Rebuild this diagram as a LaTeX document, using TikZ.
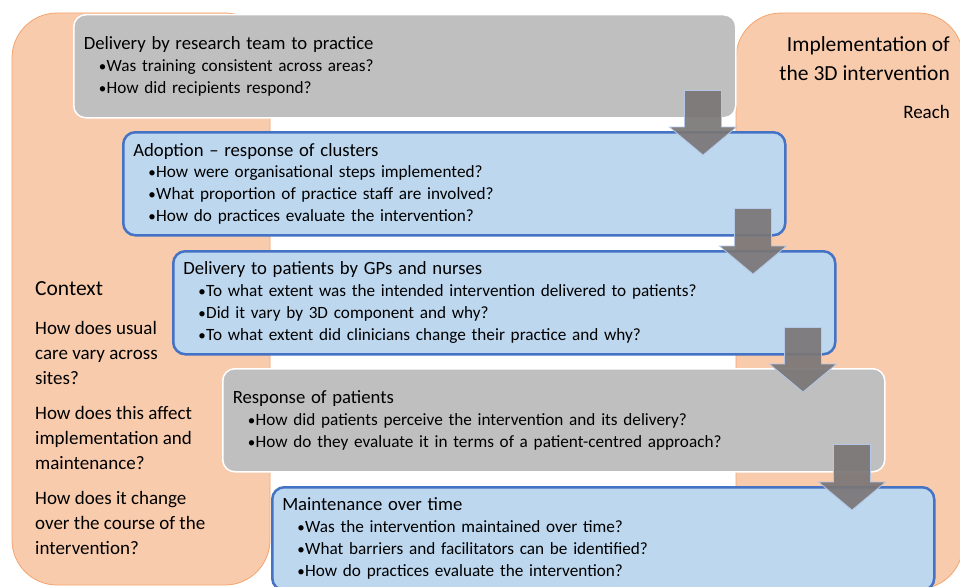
\documentclass[tikz,border=0pt]{standalone}
\usepackage{fontspec}
\setmainfont{Carlito}
\usetikzlibrary{calc}
\definecolor{orfill}{HTML}{F8CBAD}
\definecolor{ordraw}{HTML}{F4A46C}
\definecolor{grfill}{HTML}{BFBFBF}
\definecolor{blfill}{HTML}{BDD7EE}
\definecolor{bldraw}{HTML}{4472C4}
\definecolor{arfill}{HTML}{7A7676}
\definecolor{ardraw}{HTML}{B4C7E7}
\tikzset{
  orbox/.style={fill=orfill, draw=ordraw, line width=0.8pt, rounded corners=45pt},
  stagebox/.style={minimum width=662pt, minimum height=103pt, anchor=north west,
    rounded corners=12pt, text width=642pt, inner xsep=10pt, inner ysep=0pt, align=left,
    font=\fontsize{17.2}{21.9}\selectfont},
  graybox/.style={stagebox, fill=grfill, draw=white, line width=1.5pt},
  bluebox/.style={stagebox, fill=blfill, draw=bldraw, line width=2.5pt},
  blockarr/.style={fill=arfill, fill opacity=0.92, draw=ardraw, line width=0.8pt, line join=miter},
  sidetxt/.style={inner sep=0pt, font=\fontsize{19}{25}\selectfont},
  bigtxt/.style={inner sep=0pt, font=\fontsize{21.5}{29}\selectfont},
}
\newcommand{\bul}{\hspace*{15pt}{\fontsize{15}{0}\selectfont •}\kern0.5pt}
\newcommand{\ttl}[1]{{\fontsize{18.7}{21.9}\selectfont #1}}
\begin{document}
\begin{tikzpicture}[x=1pt,y=-1pt]
\useasboundingbox (0,0) rectangle (960,586);
\clip (0,0) rectangle (960,586);
% context panels
\path[orbox] (12,13) rectangle (270,585);
\path[orbox] (736,13) rectangle (963,589);
% left text
\node[bigtxt, anchor=base west] (ctxt) at (35,295) {Context};
\node[sidetxt, anchor=base west, align=left] (ctxb) at (35,554)
  {How does usual\\care vary across\\sites?\\[10pt]How does this affect\\implementation and\\maintenance?\\[10pt]How does it change\\over the course of the\\intervention?};
% right text
\node[bigtxt, anchor=base east, align=right] (impl) at (950,81) {Implementation of\\the 3D intervention};
\node[sidetxt, anchor=base east] (reach) at (950,118) {Reach};
% stage boxes
\node[graybox] (b1) at (73,14) {\ttl{Delivery by research team to practice}\\
  \bul Was training consistent across areas?\\
  \bul How did recipients respond?};
\node[bluebox] (b2) at (122,131) {\ttl{Adoption – response of clusters}\\
  \bul How were organisational steps implemented?\\
  \bul What proportion of practice staff are involved?\\
  \bul How do practices evaluate the intervention?};
\node[bluebox] (b3) at (172,250) {\ttl{Delivery to patients by GPs and nurses}\\
  \bul To what extent was the intended intervention delivered to patients?\\
  \bul Did it vary by 3D component and why?\\
  \bul To what extent did clinicians change their practice and why?};
\node[graybox] (b4) at (222,368) {\ttl{Response of patients}\\
  \bul How did patients perceive the intervention and its delivery?\\
  \bul How do they evaluate it in terms of a patient-centred approach?};
\node[bluebox] (b5) at (271,486) {\ttl{Maintenance over time}\\
  \bul Was the intervention maintained over time?\\
  \bul What barriers and facilitators can be identified?\\
  \bul How do practices evaluate the intervention?};
% block arrows
\foreach \a/\b in {b1/b2, b2/b3, b3/b4, b4/b5}{
  \path[blockarr] let \p1=(\a.south east), \p2=(\b.north) in
    (\x1-52pt,\y1+28pt) -- (\x1-15pt,\y1+28pt) -- (\x1-15pt,\y2+4pt) -- (\x1,\y2+4pt)
    -- (\x1-33.5pt,\y2-24pt) -- (\x1-67pt,\y2+4pt) -- (\x1-52pt,\y2+4pt) -- cycle;
}
\end{tikzpicture}
\end{document}
